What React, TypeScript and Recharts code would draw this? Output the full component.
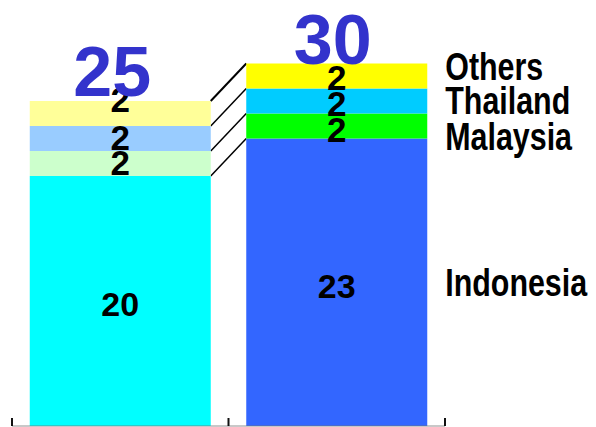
import React from 'react';
import { BarChart, Bar, XAxis, YAxis, LabelList, ReferenceLine } from 'recharts';

// two columns, no category labels shown on the axis
const categories = ['before', 'after'];
const seriesNames = ['Indonesia', 'Malaysia', 'Thailand', 'Others'];
const indonesia = [20, 23];
const malaysia = [2, 2];
const thailand = [2, 2];
const others = [2, 2];
const totals = ['25', '30'];

const seriesValues = [indonesia, malaysia, thailand, others];

// [left column colour, right column colour]
const colors = [
    ['#00FFFF', '#3366FF'],
    ['#CCFFCC', '#00FF00'],
    ['#99CCFF', '#00CCFF'],
    ['#FFFF99', '#FFFF00'],
];

// small nudges so the labels sit where the original has them
const valueNudge = [
    [3, 4],
    [-1.5, 3],
    [-1.5, 2],
    [-14, 1],
];
const nameNudge = [0, 10, -1, -10];
const totalNudge = [
    [-8, -5],
    [-4, 0],
];
const lineWidth = [1.5, 1.5, 1.5, 2];

// axis tick marks sit on the edges of the category bands
const bandEdges: [string, 'start' | 'end'][] = [
    [categories[0], 'start'],
    [categories[1], 'start'],
    [categories[1], 'end'],
];

const GAP = 0.082;
const TICK_LEN = 0.64; // in value units, about 8px
const NUM_FONT = '"Liberation Sans", Arial, sans-serif';
const NAME_FONT = '"Liberation Sans", Arial, sans-serif';

const data = categories.map((name, i) => {
    const row: Record<string, string | number> = { name };
    seriesNames.forEach((s, j) => {
        row[s] = seriesValues[j][i];
    });
    return row;
});

const sum = (a: number[]) => a.reduce((p, c) => p + c, 0);

// rect plus the connector from the left column to the right one
function makeShape(s: number) {
    return (props: any) => {
        const { x, y, width, height, index } = props;
        let connector = null;
        if (index === 0 && height > 0) {
            const k = height / seriesValues[s][0];
            const lowerLeft = sum(seriesValues.slice(0, s).map((v) => v[0]));
            const upperRight = sum(seriesValues.slice(0, s + 1).map((v) => v[1]));
            const y0 = y + height + lowerLeft * k;
            const yR = y0 - upperRight * k;
            const band = width / (1 - 2 * GAP);
            const gap = band - width;
            connector = (
                <line
                    x1={x + width}
                    y1={y}
                    x2={x + width + gap}
                    y2={yR}
                    stroke="#000"
                    strokeWidth={lineWidth[s]}
                />
            );
        }
        return (
            <g>
                <rect x={x} y={y} width={width} height={height} fill={colors[s][index]} />
                {connector}
            </g>
        );
    };
}

function valueLabel(s: number) {
    return (props: any) => {
        const vb = props.viewBox || props;
        const { x, y, width, height } = vb;
        const { index, value } = props;
        const fs = value >= 10 ? 34 : 35;
        const cy = y + height / 2 + valueNudge[s][index];
        return (
            <text
                x={x + width / 2}
                y={cy + fs * 0.358}
                textAnchor="middle"
                fontSize={fs}
                fontWeight="bold"
                fontFamily={NUM_FONT}
                fill="#000"
            >
                {value}
            </text>
        );
    };
}

// names sit to the right of the second column, drawn narrow like the original
function nameLabel(s: number) {
    return (props: any) => {
        const vb = props.viewBox || props;
        const { x, y, width, height } = vb;
        if (props.index !== 1) return null;
        const fs = 38;
        const cy = y + height / 2 + nameNudge[s];
        const tx = x + width + 18;
        const ty = cy + fs * 0.358;
        return (
            <text
                transform={`translate(${tx},${ty}) scale(0.8,1)`}
                x={0}
                y={0}
                fontSize={fs}
                fontWeight="bold"
                fontFamily={NAME_FONT}
                fill="#000"
            >
                {seriesNames[s]}
            </text>
        );
    };
}

const totalLabel = (props: any) => {
    const vb = props.viewBox || props;
    const { x, y, width } = vb;
    const i = props.index;
    return (
        <text
            x={x + width / 2 + totalNudge[i][0]}
            y={y + totalNudge[i][1]}
            textAnchor="middle"
            fontSize={70}
            fontWeight="bold"
            fontFamily={NUM_FONT}
            fill="#3333CC"
        >
            {totals[i]}
        </text>
    );
};

export default function App() {
    return (
        <div style={{ position: 'absolute', left: 0, top: 0 }}>
            <BarChart
                width={596}
                height={427}
                data={data}
                margin={{ top: 26, right: 151, left: 12, bottom: 1 }}
                barCategoryGap={`${GAP * 100}%`}
            >
                <XAxis xAxisId="cat" dataKey="name" hide />
                <YAxis hide domain={[0, 32]} />
                {seriesNames.map((s, j) => (
                    <Bar
                        key={s}
                        xAxisId="cat"
                        dataKey={s}
                        stackId="a"
                        isAnimationActive={false}
                        shape={makeShape(j)}
                    >
                        <LabelList dataKey={s} content={valueLabel(j)} />
                        <LabelList dataKey={s} content={nameLabel(j)} />
                        {j === seriesNames.length - 1 && (
                            <LabelList dataKey={s} content={totalLabel} />
                        )}
                    </Bar>
                ))}
                <ReferenceLine xAxisId="cat" y={0} stroke="#777" strokeOpacity={0.8} ifOverflow="visible" />
                {bandEdges.map(([c, pos]) => (
                    <ReferenceLine
                        key={c + pos}
                        xAxisId="cat"
                        position={pos}
                        segment={[
                            { x: c, y: 0 },
                            { x: c, y: TICK_LEN },
                        ]}
                        stroke="#111"
                        strokeWidth={2}
                        ifOverflow="visible"
                    />
                ))}
            </BarChart>
        </div>
    );
}
